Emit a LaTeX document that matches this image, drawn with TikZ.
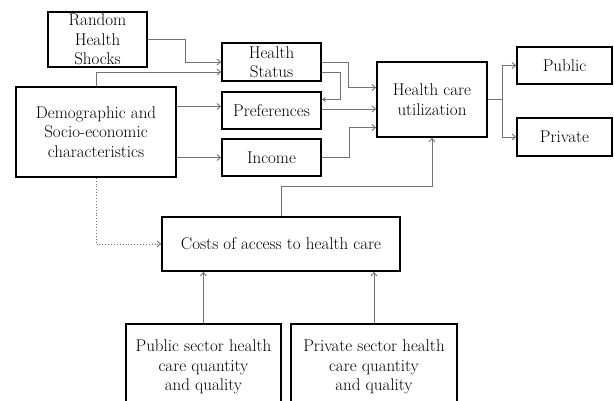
\documentclass[tikz,border=0pt]{standalone}
\usepackage{fontspec}
\usetikzlibrary{arrows.meta}
\usetikzlibrary{calc}

\tikzset{
    box/.style={draw, line width=1.6pt, align=center, inner sep=1pt, font=\fontsize{17}{19.5}\selectfont},
    conn/.style={draw=black!55, line width=0.9pt, -{Straight Barb[length=3.5pt,width=6pt]}}
}

\begin{document}
\begin{tikzpicture}[x=1pt, y=-1pt]
            \useasboundingbox (0,0) rectangle (614,401);
            \node[box, minimum width=99pt, minimum height=55pt, inner sep=0pt] (rand) at (97.5,39.5) {Random\\Health\\Shocks};
            \node[box, minimum width=99pt, minimum height=38pt, inner sep=0pt] (hstat) at (271.5,62) {Health\\Status};
            \node[box, minimum width=99pt, minimum height=37pt] (pref) at (271.5,110.5) {Preferences};
            \node[box, minimum width=99pt, minimum height=37pt] (income) at (271.5,157.5) {Income};
            \node[box, minimum width=160pt, minimum height=90pt] (demo) at (96,132) {Demographic and\\Socio-economic\\characteristics};
            \node[box, minimum width=110pt, minimum height=75pt] (util) at (432,99.5) {Health care\\utilization};
            \node[box, minimum width=95pt, minimum height=37pt] (pub) at (564.5,65.5) {Public};
            \node[box, minimum width=95pt, minimum height=38pt] (priv) at (564.5,137) {Private};
            \node[box, minimum width=238pt, minimum height=54pt] (costs) at (281,244) {Costs of access to health care};
            \node[box, minimum width=155pt, minimum height=86pt] (pubsec) at (203.5,367) {Public sector health\\care quantity\\and quality};
            \node[box, minimum width=166pt, minimum height=86pt] (privsec) at (374,367) {Private sector health\\care quantity\\and quality};
            \draw[conn] (rand.east) -- ++(38,0) |- (hstat.west);
            \draw[conn] (demo.north) |- ([yshift=-10pt]hstat.west);
            \draw[conn] ([yshift=4pt]demo.east |- pref.west) -- ([yshift=4pt]pref.west);
            \draw[conn] (demo.east |- income.west) -- (income.west);
            \draw[conn] (hstat.east) -- ++(27,0) |- ([yshift=12pt]util.west);
            \draw[conn, -{Stealth[length=4pt,width=5pt]}] ([yshift=-10pt]hstat.east) -- ++(19,0) |- ([yshift=11pt]pref.east);
            \draw[conn] ([yshift=1.5pt]pref.east) -- ([yshift=1.5pt]pref.east -| util.west);
            \draw[conn] (income.east) -- ++(28,0) |- ([yshift=-28pt]util.west);
            \draw[conn] (util.east) -- ++(15,0) |- (pub.west);
            \draw[conn] (util.east) -- ++(15,0) |- (priv.west);
            \draw[conn] (costs.north) -- ++(0,-30) -| (util.south);
            \draw[conn, dotted] (demo.south) |- (costs.west);
            \draw[conn] (pubsec.north) -- (pubsec.north |- costs.south);
            \draw[conn] (privsec.north) -- (privsec.north |- costs.south);
        \end{tikzpicture}
\end{document}
